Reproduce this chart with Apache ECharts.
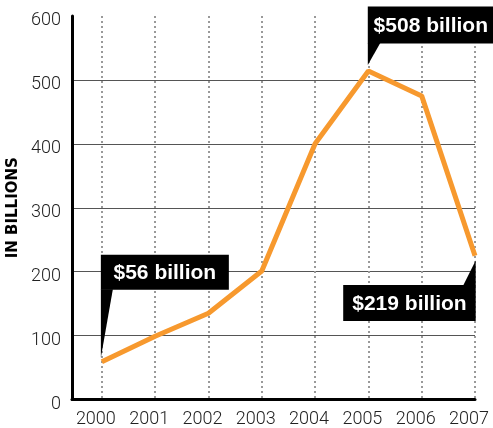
<!DOCTYPE html>
<html>
<head>
<meta charset="utf-8">
<script src="https://cdn.jsdelivr.net/npm/echarts@6/dist/echarts.min.js"></script>
<style>
  html, body { margin: 0; padding: 0; background: #fff; }
  #chart { width: 493px; height: 428px; }
</style>
</head>
<body>
<div id="chart"></div>
<script>
// values
const years = [2000, 2001, 2002, 2003, 2004, 2005, 2006, 2007];
const values = [59, 99, 135, 201, 400, 514, 475, 225];

// callouts: which point, what text
const calloutIndex = [0, 5, 7];
const calloutText = ['$56 billion', '$508 billion', '$219 billion'];

const yTicks = [0, 100, 200, 300, 400, 500, 600];

const chart = echarts.init(document.getElementById('chart'), null, { renderer: 'canvas' });

const labelFont = {
  color: '#222',
  fontSize: 18,
  fontFamily: 'Roboto',
  fontWeight: 300
};

chart.setOption({
  animation: false,
  backgroundColor: '#fff',
  grid: {
    left: 72,
    right: 18,
    top: 16,
    bottom: 28.5,
    containLabel: false,
    outerBoundsMode: 'none'
  },
  xAxis: {
    type: 'value',
    min: 1999.44,
    max: 2007,
    splitNumber: 8,
    minInterval: 1,
    maxInterval: 1,
    axisLine: { show: true, onZero: false, lineStyle: { color: '#000', width: 3 } },
    axisTick: { show: false },
    axisLabel: Object.assign({
      margin: 11,
      padding: [0, 12, 0, 0], // labels sit a bit left of the gridlines
      showMinLabel: false,
      formatter: v => (Math.abs(v - Math.round(v)) < 1e-6 ? String(Math.round(v)) : '')
    }, labelFont),
    splitLine: {
      show: true,
      showMinLine: false,
      lineStyle: { color: '#999', width: 2, type: [2, 3] }
    }
  },
  yAxis: {
    type: 'value',
    min: yTicks[0],
    max: yTicks[yTicks.length - 1],
    interval: 100,
    name: 'IN BILLIONS',
    nameLocation: 'middle',
    nameGap: 43,
    nameTextStyle: {
      color: '#000',
      fontSize: 15,
      fontWeight: 'bold',
      fontFamily: 'DejaVu Sans'
    },
    axisLine: { show: true, lineStyle: { color: '#000', width: 3 } },
    axisTick: { show: false },
    // numbers sit a little below their gridlines
    axisLabel: Object.assign({ margin: 11, verticalAlign: 'top', lineHeight: 9 }, labelFont),
    splitLine: {
      show: true,
      showMaxLine: false,
      lineStyle: { color: '#555', width: 1 }
    }
  },
  series: [
    {
      type: 'line',
      data: years.map((y, i) => [y, values[i]]),
      symbol: 'none',
      lineStyle: { color: '#f7992e', width: 5 },
      z: 3
    }
  ]
});

// callout boxes hang off the data points (shape relative to the tip)
function calloutShape(k, tip) {
  const x = tip[0], y = tip[1];
  if (k === 0) {
    // box above, pointer going down from bottom-left corner
    return { box: [x, y - 103, 128, 35], poly: [[x, y - 68.5], [x + 12, y - 68.5], [x, y]] };
  }
  if (k === 1) {
    return { box: [x, y - 58.5, 126, 37], poly: [[x, y - 22], [x + 12.5, y - 22], [x, y]] };
  }
  // box below, pointer going up from top-right corner
  return { box: [x - 132.5, y + 24.5, 132.5, 36], poly: [[x - 12.5, y + 25], [x, y + 25], [x, y]] };
}

const tipShift = [[-1, -4], [-0.6, -6], [0.7, 4.7]];
const graphics = [];
calloutIndex.forEach((idx, k) => {
  const p = chart.convertToPixel({ seriesIndex: 0 }, [years[idx], values[idx]]);
  const tip = [p[0] + tipShift[k][0], p[1] + tipShift[k][1]];
  const s = calloutShape(k, tip);
  graphics.push({
    type: 'polygon',
    z: 10,
    shape: { points: s.poly },
    style: { fill: '#000' }
  });
  graphics.push({
    type: 'rect',
    z: 10,
    shape: { x: s.box[0], y: s.box[1], width: s.box[2], height: s.box[3] },
    style: { fill: '#000' }
  });
  graphics.push({
    type: 'text',
    z: 11,
    x: s.box[0] + s.box[2] / 2,
    y: s.box[1] + s.box[3] / 2 + 1,
    style: {
      text: calloutText[k],
      fill: '#fff',
      font: 'bold 21px "Liberation Sans"',
      align: 'center',
      verticalAlign: 'middle'
    }
  });
});
chart.setOption({ graphic: graphics });

window.addEventListener('resize', () => {
  chart.resize();
});
</script>
</body>
</html>
